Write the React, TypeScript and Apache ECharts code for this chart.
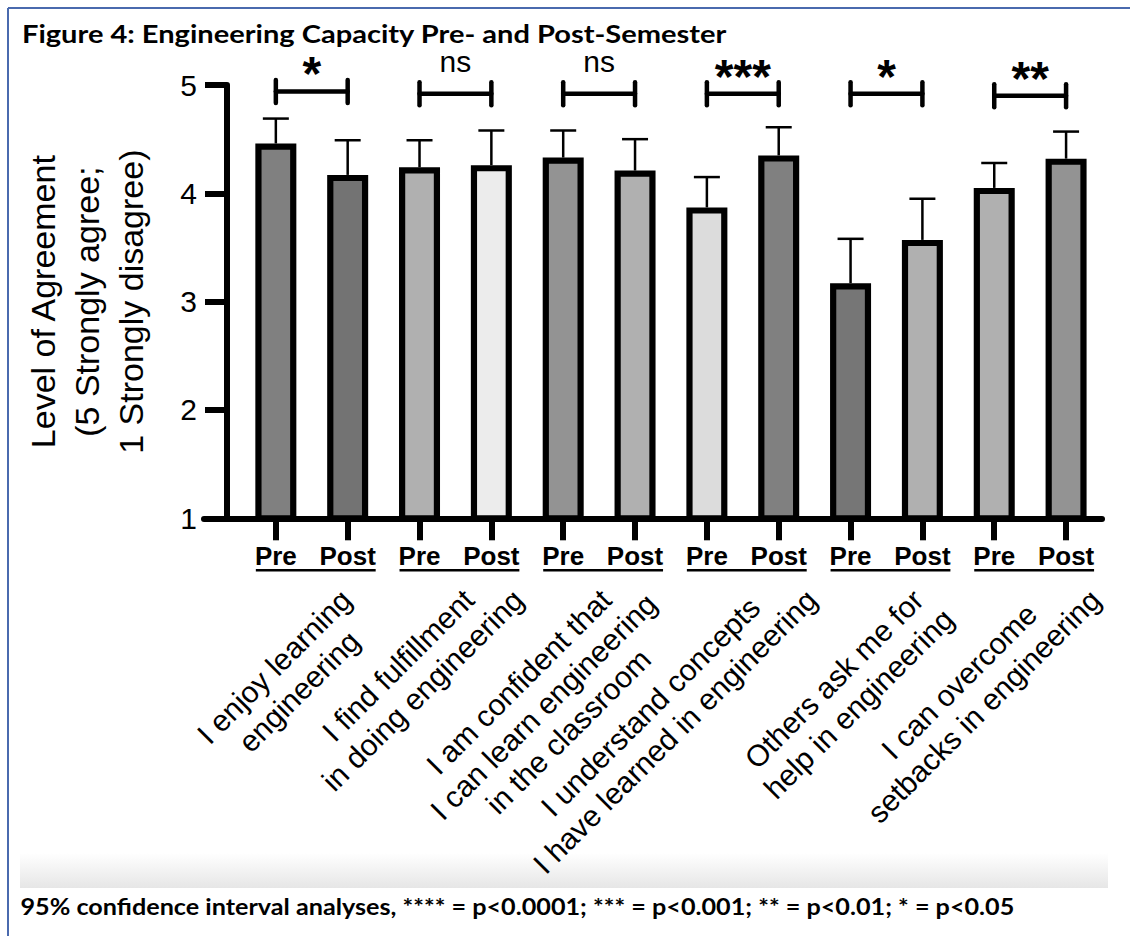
import React, { useEffect, useRef } from 'react';
import * as echarts from 'echarts';

// ---- data -------------------------------------------------------------
const stageLabels = ['Pre', 'Post'];

const statements: string[][] = [
  ['I enjoy learning', 'engineering'],
  ['I find fulfillment', 'in doing engineering'],
  ['I am confident that', 'I can learn engineering', 'in the classroom'],
  ['I understand concepts', 'I have learned in engineering'],
  ['Others ask me for', 'help in engineering'],
  ['I can overcome', 'setbacks in engineering'],
];

// Mean agreement per bar (Pre, Post alternating for each statement)
const meanScores = [4.46, 4.17, 4.24, 4.26, 4.33, 4.21, 3.87, 4.35, 3.17, 3.57, 4.05, 4.32];
// Upper limit of the 95% confidence interval per bar
const upperLimits = [4.69, 4.49, 4.49, 4.58, 4.58, 4.5, 4.15, 4.61, 3.58, 3.95, 4.28, 4.57];
const barShades = [
  '#808080', '#737373', '#b0b0b0', '#ececec', '#939393', '#b0b0b0',
  '#dcdcdc', '#808080', '#767676', '#b0b0b0', '#b0b0b0', '#939393',
];

// Pre vs Post comparison for each statement
const significance = ['*', 'ns', 'ns', '***', '*', '**'];
const bracketLevels = [4.94, 4.92, 4.92, 4.92, 4.92, 4.9];

const agreementMin = 1;
const agreementMax = 5;
const agreementStep = 1;

const titleText = 'Figure 4: Engineering Capacity Pre- and Post-Semester';
const footnoteText =
  '95% confidence interval analyses, **** = p<0.0001; *** = p<0.001; ** = p<0.01; * = p<0.05';
const axisTitle = 'Level of Agreement\n(5 Strongly agree;\n1 Strongly disagree)';

// ---- styling ----------------------------------------------------------
const ARIAL = '"Liberation Sans", Arial, Helvetica, sans-serif';
const HEADING = 'Lato, "Open Sans", "Liberation Sans", sans-serif';
const LABEL_SIZE = 30;
const LABEL_LINE = 35;

function measureWidth(text: string, font: string): number {
  const ctx = document.createElement('canvas').getContext('2d');
  if (!ctx) return text.length * 11;
  ctx.font = font;
  return ctx.measureText(text).width;
}

export default function App() {
  const ref = useRef<HTMLDivElement>(null);

  useEffect(() => {
    if (!ref.current) return;
    const chart = echarts.init(ref.current, null, { renderer: 'svg' });

    const barSlots = meanScores.map((_, i) => i);
    const comparisonRows = significance.map((_, g) => [2 * g, 2 * g + 1, bracketLevels[g]]);

    const titleWidth = measureWidth(titleText, `bold 25px ${HEADING}`);
    const footWidth = measureWidth(footnoteText, `bold 23px ${HEADING}`);

    const option: any = {
      animation: false,
      backgroundColor: '#ffffff',
      grid: { left: 204, right: 28, top: 85, bottom: 417.7, outerBoundsMode: 'none' },
      xAxis: {
        type: 'value',
        min: -1,
        max: 11.5,
        axisLine: { onZero: false, lineStyle: { color: '#000', width: 6 } },
        axisTick: { customValues: barSlots, length: 22, lineStyle: { color: '#000', width: 6 } },
        axisLabel: {
          customValues: barSlots,
          formatter: (v: number) => stageLabels[Math.round(v) % 2],
          margin: 25,
          color: '#000',
          fontSize: 26,
          fontWeight: 'bold',
          fontFamily: ARIAL,
        },
        splitLine: { show: false },
      },
      yAxis: {
        type: 'value',
        min: agreementMin,
        max: agreementMax,
        interval: agreementStep,
        offset: -23,
        name: axisTitle,
        nameLocation: 'middle',
        nameRotate: 90,
        nameGap: 74,
        nameTextStyle: { color: '#000', fontSize: 34, lineHeight: 44, fontFamily: ARIAL },
        axisLine: { show: true, onZero: false, lineStyle: { color: '#000', width: 6 } },
        axisTick: { show: true, length: 22, lineStyle: { color: '#000', width: 6 } },
        axisLabel: { margin: 30, color: '#000', fontSize: 30, fontFamily: ARIAL },
        splitLine: { show: false },
      },
      series: [
        {
          type: 'bar',
          name: 'Agreement',
          barWidth: 41,
          data: meanScores.map((m, i) => ({
            value: [i, m],
            itemStyle: { color: barShades[i] },
          })),
          itemStyle: { borderColor: '#000', borderWidth: 6.2 },
          z: 2,
        },
        {
          type: 'custom',
          name: 'CI',
          z: 3,
          data: meanScores.map((m, i) => [i, m, upperLimits[i]]),
          encode: { x: 0, y: [1, 2] },
          renderItem: (_params: any, api: any) => {
            const x = api.value(0);
            const base = api.coord([x, api.value(1)]);
            const top = api.coord([x, api.value(2)]);
            const s = { stroke: '#000', lineWidth: 2.5 };
            return {
              type: 'group',
              children: [
                { type: 'line', shape: { x1: base[0], y1: base[1], x2: top[0], y2: top[1] }, style: s },
                { type: 'line', shape: { x1: top[0] - 13, y1: top[1], x2: top[0] + 13, y2: top[1] }, style: s },
              ],
            };
          },
        },
        {
          type: 'custom',
          name: 'Comparisons',
          z: 4,
          clip: false,
          data: comparisonRows,
          encode: { x: [0, 1], y: 2 },
          renderItem: (params: any, api: any) => {
            const g = params.dataIndex;
            const pre = api.coord([api.value(0), api.value(2)]);
            const post = api.coord([api.value(1), api.value(2)]);
            const baseY = api.coord([api.value(0), agreementMin])[1];
            const by = pre[1];
            const bracketStyle = { stroke: '#000', lineWidth: 4.5, lineCap: 'round' };
            const mark = significance[g];
            const isNs = mark === 'ns';
            const midX = (pre[0] + post[0]) / 2;

            // rotated statement label, lines centred on each other
            const lines = statements[g];
            const widths = lines.map((l) => measureWidth(l, `${LABEL_SIZE}px ${ARIAL}`));
            const W = Math.max(...widths);
            const H = lines.length * LABEL_LINE;
            const c = Math.SQRT1_2;
            let topOff = Infinity;
            widths.forEach((w, i) => {
              topOff = Math.min(topOff, -c * (w / 2) + c * (-H / 2 + i * LABEL_LINE));
            });
            const cx = post[0] - 0.3 * W;
            const cy = baseY + 64 - topOff;

            return {
              type: 'group',
              children: [
                { type: 'line', shape: { x1: pre[0], y1: by, x2: post[0], y2: by }, style: bracketStyle },
                { type: 'line', shape: { x1: pre[0], y1: by - 11.5, x2: pre[0], y2: by + 11.5 }, style: bracketStyle },
                { type: 'line', shape: { x1: post[0], y1: by - 11.5, x2: post[0], y2: by + 11.5 }, style: bracketStyle },
                {
                  type: 'text',
                  x: midX,
                  y: isNs ? by - 32.6 : by - 17.6,
                  style: {
                    text: mark,
                    fill: '#000',
                    fontSize: isNs ? 30 : 48,
                    fontWeight: isNs ? 'normal' : 'bold',
                    fontFamily: ARIAL,
                    align: 'center',
                    verticalAlign: 'middle',
                  },
                },
                {
                  type: 'line',
                  shape: { x1: pre[0] - 20, y1: baseY + 52, x2: post[0] + 28, y2: baseY + 52 },
                  style: { stroke: '#000', lineWidth: 2.5 },
                },
                {
                  type: 'text',
                  x: cx,
                  y: cy,
                  rotation: Math.PI / 4,
                  style: {
                    text: lines.join('\n'),
                    fill: '#000',
                    fontSize: LABEL_SIZE,
                    lineHeight: LABEL_LINE,
                    fontFamily: ARIAL,
                    align: 'center',
                    verticalAlign: 'middle',
                  },
                },
              ],
            };
          },
        },
      ],
      graphic: [
        {
          type: 'rect',
          shape: { x: 20, y: 853, width: 1088, height: 35 },
          style: {
            fill: new echarts.graphic.LinearGradient(0, 0, 0, 1, [
              { offset: 0, color: '#ffffff' },
              { offset: 1, color: '#e6e6e6' },
            ]),
          },
          z: -10,
        },
        { type: 'line', shape: { x1: 8, y1: 8, x2: 1130, y2: 8 }, style: { stroke: '#4a6aae', lineWidth: 2 } },
        { type: 'line', shape: { x1: 8, y1: 8, x2: 8, y2: 936 }, style: { stroke: '#4a6aae', lineWidth: 2 } },
        {
          type: 'text',
          x: 22,
          y: 33,
          scaleX: 705 / titleWidth,
          style: {
            text: titleText,
            fill: '#000',
            fontSize: 25,
            fontWeight: 'bold',
            fontFamily: HEADING,
            align: 'left',
            verticalAlign: 'middle',
          },
        },
        {
          type: 'text',
          x: 20.5,
          y: 906,
          scaleX: 994 / footWidth,
          style: {
            text: footnoteText,
            fill: '#000',
            fontSize: 23,
            fontWeight: 'bold',
            fontFamily: HEADING,
            align: 'left',
            verticalAlign: 'middle',
          },
        },
      ],
    };

    chart.setOption(option);
    return () => chart.dispose();
  }, []);

  return (
    <div
      ref={ref}
      style={{ position: 'fixed', left: 0, top: 0, width: 1130, height: 936, background: '#fff' }}
    />
  );
}
